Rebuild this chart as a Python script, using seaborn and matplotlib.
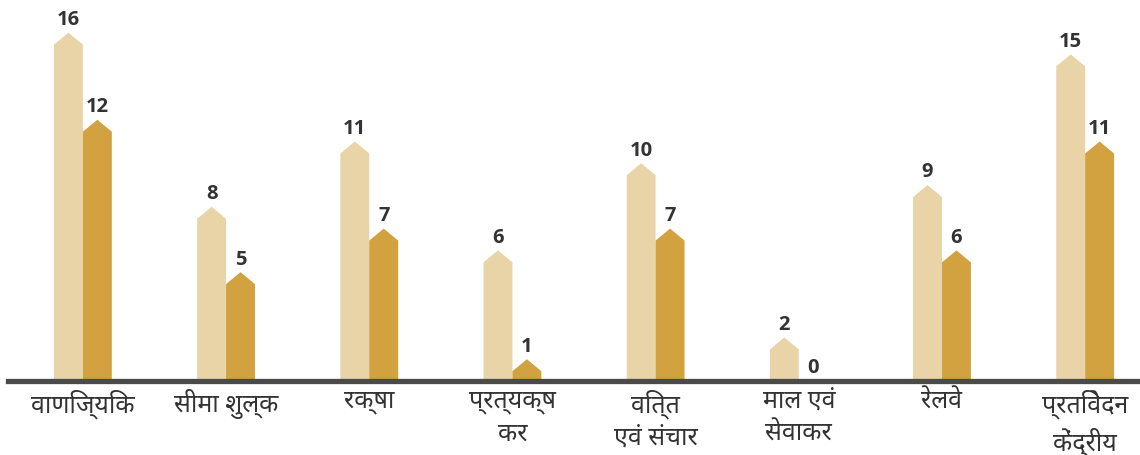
import matplotlib
matplotlib.use("Agg")
import matplotlib.pyplot as plt
from matplotlib.patches import Polygon, Rectangle
import seaborn as sns
import pandas as pd

categories = ["वाणिज्यिक", "सीमा शुल्क", "रक्षा", "प्रत्यक्ष\nकर", "वित्त\nएवं संचार",
              "माल एवं\nसेवाकर", "रेलवे", "प्रतिवेदन\nकेंद्रीय"]
series_names = ["A", "B"]
values_a = [16, 8, 11, 6, 10, 2, 9, 15]
values_b = [12, 5, 7, 1, 7, 0, 6, 11]
colors = ["#E9D4A8", "#D1A23F"]

df = pd.DataFrame({
    "category": categories * 2,
    "series": [series_names[0]] * len(categories) + [series_names[1]] * len(categories),
    "value": values_a + values_b,
})

sns.set_theme(style="white")
plt.rcParams["font.family"] = ["Noto Sans Devanagari", "Noto Sans", "DejaVu Sans"]

fig = plt.figure(figsize=(11.4, 4.55), dpi=100)
ax = fig.add_axes([8 / 1140, 74 / 455, 1132 / 1140, 381 / 455])

sns.barplot(data=df, x="category", y="value", hue="series", palette=colors,
            width=0.404, gap=0, dodge=True, legend=False, ax=ax, saturation=1)

ax.set_ylim(0, 17.5)
ax.set_xlim(-0.523, 7.383)

label_font = dict(fontsize=14.5, fontweight="bold", color="#333333",
                  family=["Open Sans", "DejaVu Sans"])

# turn each bar into an arrow-like pentagon with a pointed top
roof = 0.55
bars = [p for p in ax.patches if isinstance(p, Rectangle)]
for p in bars:
    x0, w, h = p.get_x(), p.get_width(), p.get_height()
    fc = p.get_facecolor()
    p.remove()
    if h <= 0:
        continue
    shoulder = max(h - roof, 0)
    pts = [(x0, 0), (x0, shoulder), (x0 + w / 2, h), (x0 + w, shoulder), (x0 + w, 0)]
    ax.add_patch(Polygon(pts, closed=True, facecolor=fc, edgecolor="none", zorder=2))
    ax.text(x0 + w / 2, h + 0.12, f"{h:.0f}", ha="center", va="bottom", **label_font)

# zero-valued bars still get their label
for i, vb in enumerate(values_b):
    if vb == 0:
        ax.text(i + 0.101, 0.12, "0", ha="center", va="bottom", **label_font)

for s in ["top", "right", "left"]:
    ax.spines[s].set_visible(False)
ax.spines["bottom"].set_color("#4a4a4a")
ax.spines["bottom"].set_linewidth(3.8)
ax.spines["bottom"].set_zorder(3)

ax.set_yticks([])
ax.set_xlabel("")
ax.set_ylabel("")
ax.tick_params(axis="x", length=0, pad=6, labelsize=18, colors="#333333")
for lbl in ax.get_xticklabels():
    lbl.set_linespacing(1.38)
    lbl.set_va("top")

fig.savefig("out.png", dpi=100, facecolor="white")
